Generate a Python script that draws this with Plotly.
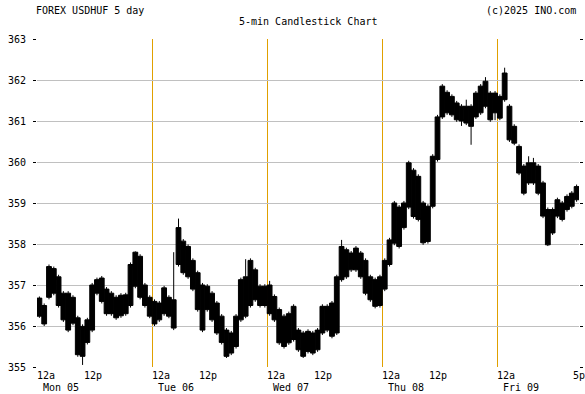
import pandas as pd
import plotly.graph_objects as go

# Hourly aggregation of the 5-min USD/HUF candles, Mon 05 00:00 .. Fri 09 17:00
start_time = "2025-05-05 00:30"
opens = [356.68, 356.05, 356.70, 357.40, 357.20, 356.80, 356.80, 356.07, 356.20, 355.99,
         355.60, 355.90, 356.80, 357.17, 356.90, 356.80, 356.70, 356.25, 356.30, 356.50,
         356.97, 357.70, 357.00, 356.70, 356.60, 356.15, 356.30, 356.70, 356.64, 357.50,
         358.07, 357.94, 357.60, 357.30, 357.00, 356.40, 356.80, 356.56, 356.24, 355.90,
         355.34, 355.50, 356.15, 357.20, 357.60, 357.37, 356.97, 356.50, 357.00, 356.72,
         356.40, 356.24, 355.59, 356.48, 355.90, 355.83, 355.38, 355.83, 355.42, 355.83,
         356.48, 355.75, 355.83, 357.13, 357.86, 357.37, 357.90, 357.78, 357.60, 357.20,
         356.48, 357.20, 356.90, 357.50, 358.02, 358.90, 358.40, 358.90, 359.80, 359.65,
         359.00, 358.06, 358.92, 360.06, 361.10, 361.70, 361.60, 361.44, 361.36, 360.95,
         360.87, 361.10, 361.20, 361.97, 361.68, 361.68, 361.07, 361.52, 361.36, 360.87,
         360.38, 359.90, 359.49, 359.98, 359.90, 359.49, 358.84, 358.27, 358.68, 359.00,
         358.84, 358.92, 359.08]
highs = [356.72, 356.55, 357.50, 357.45, 357.25, 356.85, 356.85, 356.75, 356.25, 356.04,
         356.20, 357.05, 357.18, 357.22, 356.95, 356.85, 356.75, 356.80, 356.81, 357.55,
         357.82, 357.75, 357.05, 356.75, 356.65, 356.61, 356.98, 356.75, 357.80, 358.62,
         358.12, 357.99, 357.65, 357.35, 357.05, 357.02, 356.85, 356.61, 356.29, 355.95,
         355.88, 356.29, 357.18, 357.63, 357.65, 357.42, 357.02, 357.02, 357.10, 356.77,
         356.45, 356.29, 356.35, 356.53, 355.95, 355.88, 355.92, 355.88, 355.95, 356.53,
         356.53, 356.61, 357.25, 358.10, 357.91, 357.83, 357.95, 357.83, 357.65, 357.25,
         357.18, 357.25, 357.65, 358.15, 359.05, 358.95, 359.05, 360.03, 359.85, 359.70,
         359.05, 358.97, 360.19, 361.15, 361.90, 361.75, 361.65, 361.49, 361.41, 361.52,
         361.41, 361.73, 361.90, 362.07, 361.73, 361.73, 361.65, 362.30, 361.41, 360.92,
         360.43, 359.95, 360.14, 360.10, 359.95, 359.54, 358.89, 358.89, 359.13, 359.05,
         359.21, 359.29, 359.45]
lows = [356.20, 356.00, 356.65, 356.75, 356.45, 356.10, 355.85, 356.02, 355.25, 355.05,
        355.55, 355.85, 356.75, 356.55, 356.25, 356.25, 356.15, 356.20, 356.25, 356.45,
        356.92, 356.65, 356.45, 356.19, 356.00, 356.10, 356.25, 356.19, 355.90, 357.45,
        357.25, 357.15, 356.85, 356.35, 355.85, 356.35, 356.10, 355.78, 355.55, 355.22,
        355.29, 355.45, 356.10, 356.19, 356.45, 356.59, 356.45, 356.45, 356.25, 356.10,
        355.54, 355.45, 355.54, 355.62, 355.37, 355.22, 355.33, 355.29, 355.37, 355.78,
        355.85, 355.70, 355.78, 357.08, 357.15, 357.32, 357.32, 357.15, 356.75, 356.59,
        356.43, 356.45, 356.85, 357.45, 357.97, 357.89, 358.35, 358.85, 358.62, 358.55,
        357.98, 358.01, 358.87, 360.01, 361.05, 361.15, 361.10, 360.98, 360.88, 360.90,
        360.42, 361.05, 361.15, 361.31, 360.98, 361.02, 361.02, 361.47, 360.49, 360.41,
        359.68, 359.19, 359.44, 359.44, 359.19, 358.63, 357.95, 358.22, 358.63, 358.55,
        358.79, 358.87, 359.03]
closes = [356.24, 356.50, 357.45, 356.80, 356.50, 356.15, 355.90, 356.70, 355.30, 355.26,
          356.15, 357.00, 357.13, 356.60, 356.30, 356.30, 356.20, 356.75, 356.76, 357.50,
          357.80, 356.70, 356.50, 356.24, 356.05, 356.56, 356.93, 356.24, 355.95, 358.40,
          357.30, 357.20, 356.90, 356.40, 355.90, 356.97, 356.15, 355.83, 355.60, 355.26,
          355.83, 356.24, 357.13, 356.24, 356.50, 356.64, 356.50, 356.97, 356.30, 356.15,
          355.59, 355.50, 356.30, 355.67, 355.42, 355.26, 355.87, 355.34, 355.90, 356.48,
          355.90, 356.56, 357.20, 357.94, 357.20, 357.78, 357.37, 357.20, 356.80, 356.64,
          357.13, 356.50, 357.60, 358.10, 359.00, 357.94, 359.00, 359.98, 358.67, 358.60,
          358.03, 358.92, 360.14, 361.10, 361.85, 361.20, 361.15, 361.03, 361.00, 361.36,
          361.36, 361.68, 361.85, 361.36, 361.03, 361.20, 361.60, 362.17, 360.54, 360.46,
          359.73, 359.24, 359.98, 359.49, 359.24, 358.68, 357.98, 358.84, 359.08, 358.60,
          359.16, 359.24, 359.40]

y_ticks = [355, 356, 357, 358, 359, 360, 361, 362, 363]
day_starts = ["2025-05-05", "2025-05-06", "2025-05-07", "2025-05-08", "2025-05-09"]
day_labels = ["Mon 05", "Tue 06", "Wed 07", "Thu 08", "Fri 09"]
x_end = "2025-05-09 17:00"

times = pd.date_range(start_time, periods=len(opens), freq="h")

FONT = "DejaVu Sans Mono"
GOLD = "#E0A000"
TXT = dict(family=FONT, size=10, color="black")

fig = go.Figure()
fig.add_trace(go.Candlestick(
    x=times, open=opens, high=highs, low=lows, close=closes,
    increasing=dict(line=dict(color="black", width=1), fillcolor="black"),
    decreasing=dict(line=dict(color="black", width=1), fillcolor="black"),
    whiskerwidth=0, showlegend=False, hoverinfo="skip",
))
fig.add_trace(go.Scatter(x=[times[0]], y=[None], yaxis="y2", showlegend=False,
                         hoverinfo="skip", mode="markers"))

annotations = []
for i, d in enumerate(day_starts):
    annotations.append(dict(x=d, y=-0.025, xref="x", yref="paper", text="12a",
                            showarrow=False, xanchor="left", yanchor="middle",
                            xshift=-2, font=TXT))
    annotations.append(dict(x=d, y=-0.061, xref="x", yref="paper", text=day_labels[i],
                            showarrow=False, xanchor="left", yanchor="middle",
                            xshift=4, font=TXT))
    if i < 4:
        annotations.append(dict(x=pd.Timestamp(d) + pd.Timedelta(hours=12), y=-0.025,
                                xref="x", yref="paper", text="12p", showarrow=False,
                                xanchor="center", yanchor="middle", xshift=-2, font=TXT))
annotations.append(dict(x=x_end, y=-0.025, xref="x", yref="paper", text="5p",
                        showarrow=False, xanchor="center", yanchor="middle", font=TXT))
annotations.append(dict(x=0, y=1, xref="paper", yref="paper", text="FOREX USDHUF 5 day",
                        showarrow=False, xanchor="left", yanchor="middle", xshift=-3,
                        yshift=29, font=TXT))
annotations.append(dict(x=1, y=1, xref="paper", yref="paper", text="(c)2025 INO.com",
                        showarrow=False, xanchor="right", yanchor="middle", xshift=-1,
                        yshift=29, font=TXT))
annotations.append(dict(x=0.5, y=1, xref="paper", yref="paper", text="5-min Candlestick Chart",
                        showarrow=False, xanchor="center", yanchor="middle", yshift=18,
                        font=TXT))

fig.update_layout(
    width=585, height=394,
    margin=dict(l=37, r=3, t=39, b=27),
    paper_bgcolor="white", plot_bgcolor="white",
    boxgap=0.0, boxgroupgap=0.0,
    annotations=annotations,
    font=TXT,
    xaxis=dict(range=[day_starts[0], x_end], type="date",
               tickvals=day_starts[1:] + [x_end],
               showgrid=True, gridcolor=GOLD, gridwidth=1, zeroline=False,
               showticklabels=False, ticks="", rangeslider=dict(visible=False),
               showline=False, fixedrange=True),
    yaxis=dict(range=[355, 363], tickvals=y_ticks, ticktext=[str(v) for v in y_ticks],
               showgrid=True, gridcolor="#C0C0C0", gridwidth=1, zeroline=False,
               ticks="outside", ticklen=3, tickcolor="black", tickwidth=1,
               ticklabelstandoff=5, showline=False, tickfont=TXT),
    yaxis2=dict(range=[355, 363], tickvals=y_ticks, overlaying="y", side="right",
                showgrid=False, zeroline=False, showticklabels=False,
                ticks="outside", ticklen=3, tickcolor="black", showline=False),
)

fig.write_html("out.html", config={"displayModeBar": False},
               post_script="document.body.style.margin='0';")
